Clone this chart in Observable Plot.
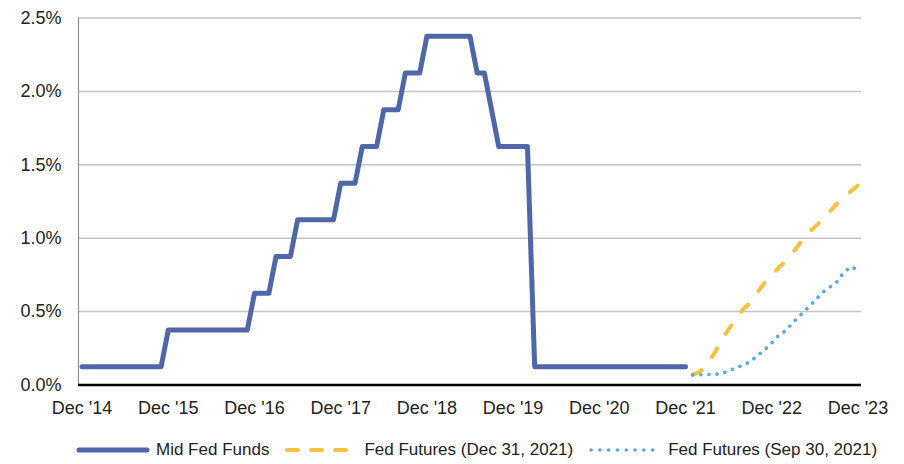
<!DOCTYPE html>
<html>
<head>
<meta charset="utf-8">
<script src="https://cdn.jsdelivr.net/npm/d3@7"></script>
<script src="https://cdn.jsdelivr.net/npm/@observablehq/plot@0.6"></script>
<style>
  html, body { margin: 0; padding: 0; background: #fff; }
  body { width: 904px; height: 464px; overflow: hidden; font-family: "Liberation Sans", Arial, sans-serif; }
  #legend { position: relative; height: 28px; display: flex; align-items: center; padding-left: 76px; font-size: 17px; color: #222; }
  .item { display: flex; align-items: center; margin-right: 15px; }
  .item svg { margin-right: 6px; }
</style>
</head>
<body>
<div id="chart"></div>
<div id="legend"></div>
<script>
// x categories: monthly, index 0 = Dec 2014 ... index 108 = Dec 2023
const tickLabels = ["Dec '14", "Dec '15", "Dec '16", "Dec '17", "Dec '18", "Dec '19", "Dec '20", "Dec '21", "Dec '22", "Dec '23"];
const seriesNames = ["Mid Fed Funds", "Fed Futures (Dec 31, 2021)", "Fed Futures (Sep 30, 2021)"];
const seriesColors = ["#4f67a8", "#f5c23e", "#5aa9e6"];

// Mid Fed Funds, Dec 2014 .. Dec 2021 (85 months), %
const midFedFunds = [
  0.125, 0.125, 0.125, 0.125, 0.125, 0.125, 0.125, 0.125, 0.125, 0.125, 0.125, 0.125,
  0.375, 0.375, 0.375, 0.375, 0.375, 0.375, 0.375, 0.375, 0.375, 0.375, 0.375, 0.375,
  0.625, 0.625, 0.625,
  0.875, 0.875, 0.875,
  1.125, 1.125, 1.125, 1.125, 1.125, 1.125,
  1.375, 1.375, 1.375,
  1.625, 1.625, 1.625,
  1.875, 1.875, 1.875,
  2.125, 2.125, 2.125,
  2.375, 2.375, 2.375, 2.375, 2.375, 2.375, 2.375,
  2.125, 2.125,
  1.875,
  1.625, 1.625, 1.625, 1.625, 1.625,
  0.125, 0.125, 0.125, 0.125, 0.125, 0.125, 0.125, 0.125, 0.125, 0.125, 0.125,
  0.125, 0.125, 0.125, 0.125, 0.125, 0.125, 0.125, 0.125, 0.125, 0.125, 0.125
];
const midStart = 0; // Dec 2014

// Futures curves, Jan 2022 .. Dec 2023 (24 months), %
const futuresStart = 85; // Jan 2022
const futuresDec31 = [0.07, 0.09, 0.14, 0.215, 0.30, 0.38, 0.45, 0.515, 0.56, 0.63, 0.695, 0.75,
                      0.80, 0.846, 0.905, 0.97, 1.03, 1.077, 1.125, 1.175, 1.232, 1.267, 1.32, 1.36];
const futuresSep30 = [0.069, 0.070, 0.071, 0.072, 0.078, 0.095, 0.116, 0.135, 0.158, 0.201, 0.239, 0.287,
                      0.340, 0.372, 0.428, 0.476, 0.524, 0.574, 0.627, 0.664, 0.698, 0.765, 0.805, 0.785];

const yTicks = [0, 0.5, 1.0, 1.5, 2.0, 2.5];

const mid = midFedFunds.map((v, i) => ({x: midStart + i, y: v}));
const fDec = futuresDec31.map((v, i) => ({x: futuresStart + i, y: v}));
const fSep = futuresSep30.map((v, i) => ({x: futuresStart + i, y: v}));
const xTicks = tickLabels.map((_, k) => k * 12);

const chart = Plot.plot({
  width: 904,
  height: 436,
  marginLeft: 78,
  marginRight: 43,
  marginTop: 17.5,
  marginBottom: 51.5,
  style: {fontFamily: "'Liberation Sans', Arial, sans-serif", fontSize: "18px", color: "#222", background: "#fff", overflow: "visible"},
  x: {type: "linear", domain: [-0.5, 108.5]},
  y: {domain: [0, 2.5]},
  marks: [
    Plot.gridY(yTicks.filter(d => d > 0), {stroke: "#c4c4c4", strokeOpacity: 1, strokeWidth: 1.5}),
    Plot.ruleX([-0.5], {stroke: "#8f8f8f", strokeWidth: 1.2}),
    Plot.axisY(yTicks, {tickSize: 0, tickPadding: 17, tickFormat: d => d.toFixed(1) + "%", fontSize: 18, label: null}),
    Plot.axisX(xTicks, {tickSize: 0, tickPadding: 16, tickFormat: d => tickLabels[d / 12], fontSize: 18, label: null}),
    Plot.ruleY([0], {stroke: "#000", strokeWidth: 2.6}),
    Plot.lineY(mid, {x: "x", y: "y", stroke: seriesColors[0], strokeWidth: 5, strokeLinecap: "round", strokeLinejoin: "round"}),
    Plot.lineY(fDec, {x: "x", y: "y", stroke: seriesColors[1], strokeWidth: 4, strokeDasharray: "10,17", strokeLinecap: "round", strokeLinejoin: "round"}),
    Plot.lineY(fSep, {x: "x", y: "y", stroke: seriesColors[2], strokeWidth: 3.6, strokeDasharray: "0.1,8", strokeLinecap: "round", strokeLinejoin: "round"})
  ]
});
document.getElementById("chart").appendChild(chart);

// Legend
const legend = d3.select("#legend");
const swatchStyles = [
  {w: 5, dash: null},
  {w: 4, dash: "11,13"},
  {w: 3.6, dash: "0.1,8.7"}
];
seriesNames.forEach((name, i) => {
  const item = legend.append("div").attr("class", "item");
  const svg = item.append("svg").attr("width", 74).attr("height", 12);
  svg.append("line")
    .attr("x1", i === 2 ? 3 : 3).attr("x2", 71).attr("y1", 6).attr("y2", 6)
    .attr("stroke", seriesColors[i])
    .attr("stroke-width", swatchStyles[i].w)
    .attr("stroke-linecap", "round")
    .attr("stroke-dasharray", swatchStyles[i].dash);
  item.append("span").text(name);
});
</script>
</body>
</html>
